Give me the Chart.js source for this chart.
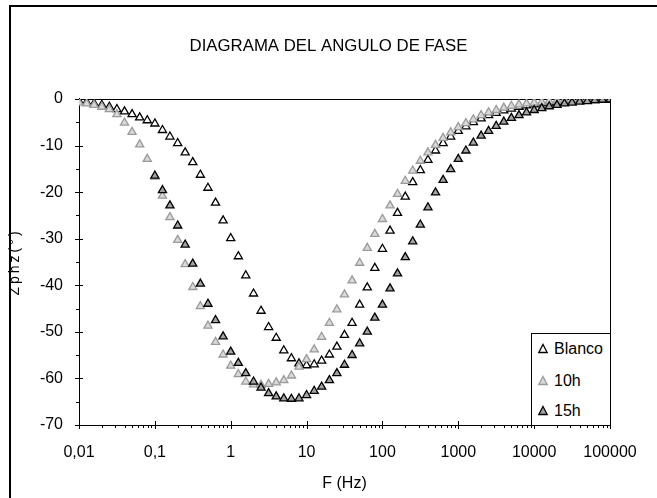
<!DOCTYPE html>
<html>
<head>
<meta charset="utf-8">
<script src="https://cdn.jsdelivr.net/npm/chart.js@4"></script>
<style>
  body { margin: 0; background: #fff; }
  #wrap { position: relative; width: 657px; height: 498px; overflow: hidden; }
  #frame { position: absolute; left: 9px; top: 5px; width: 700px; height: 600px;
           border-left: 2px solid #000; border-top: 2px solid #000; }
  canvas { position: absolute; left: 0; top: 0; }
  #legend { position: absolute; left: 531px; top: 333px; width: 78px; height: 91px;
            border: 1px solid #000; border-bottom: none; background: #fff;
            font-family: 'Liberation Sans', Arial, sans-serif; font-size: 16px; color: #000; }
  .row { position: absolute; left: 0; height: 20px; line-height: 20px; white-space: nowrap; }
  .row svg { position: absolute; left: 5px; top: 4px; }
  .row span { position: absolute; left: 22px; top: 0; }
</style>
</head>
<body>
<div id="wrap">
  <div id="frame"></div>
  <canvas id="phaseChart" width="657" height="498"></canvas>
  <div id="legend"></div>
</div>
<script>
// frequencies (Hz), 10 points per decade
var freq = [0.01, 0.0126, 0.0158, 0.02, 0.0251, 0.0316, 0.0398, 0.0501, 0.0631, 0.0794,
    0.1, 0.126, 0.158, 0.2, 0.251, 0.316, 0.398, 0.501, 0.631, 0.794,
    1, 1.26, 1.58, 2, 2.51, 3.16, 3.98, 5.01, 6.31, 7.94,
    10, 12.6, 15.8, 20, 25.1, 31.6, 39.8, 50.1, 63.1, 79.4,
    100, 126, 158, 200, 251, 316, 398, 501, 631, 794,
    1000, 1260, 1580, 2000, 2510, 3160, 3980, 5010, 6310, 7940,
    10000, 12600, 15800, 20000, 25100, 31600, 39800, 50100, 63100, 79400,
    100000];

var blanco = [-0.5, -0.7, -1.0, -1.3, -1.7, -2.2, -2.7, -3.3, -4.0, -4.6,
    -5.3, -6.7, -8.1, -9.5, -11.5, -13.6, -16.3, -19.1, -22.3, -26.1,
    -29.9, -33.8, -37.9, -41.8, -45.5, -49.0, -51.3, -54.0, -55.7, -56.8,
    -57.2, -57.0, -56.2, -54.9, -53.2, -50.7, -48.1, -44.2, -40.5, -36.3,
    -32.2, -28.3, -24.5, -21.0, -17.9, -15.3, -13.1, -11.1, -9.5, -8.1,
    -6.9, -5.9, -5.0, -4.2, -3.5, -3.0, -2.5, -2.1, -1.7, -1.4,
    -1.2, -1.0, -0.8, -0.7, -0.6, -0.5, -0.4, -0.3, -0.3, -0.2,
    -0.2];

var h10 = [-0.8, -1.0, -1.3, -1.7, -2.2, -3.3, -5.1, -7.1, -9.8, -12.9,
    -16.7, -20.8, -25.4, -30.3, -35.5, -40.4, -44.5, -48.7, -52.2, -54.9,
    -57.3, -59.1, -60.7, -61.3, -61.4, -61.2, -60.9, -60.4, -59.4, -57.5,
    -55.9, -53.8, -51.1, -48.1, -45.2, -42.0, -39.0, -35.2, -32.0, -29.0,
    -25.8, -22.9, -20.4, -17.6, -15.4, -13.3, -11.5, -9.9, -8.4, -7.2,
    -6.1, -5.2, -4.4, -3.5, -2.9, -2.4, -1.9, -1.5, -1.2, -1.0,
    -0.8, -0.7, -0.5, -0.4, -0.3, -0.3, -0.2, -0.2, -0.1, -0.1,
    0.0];

var h15 = [null, null, null, null, null, null, null, null, null, null,
    -16.5, -19.6, -22.9, -27.2, -31.3, -35.4, -39.7, -44.0, -47.5, -51.0,
    -54.3, -56.7, -58.9, -60.7, -62.0, -63.2, -63.9, -64.3, -64.4, -64.3,
    -63.6, -62.7, -61.8, -60.4, -58.9, -57.1, -55.0, -52.5, -50.0, -47.0,
    -44.2, -40.7, -37.5, -34.0, -30.6, -27.0, -23.3, -20.1, -17.4, -15.1,
    -12.9, -11.1, -9.4, -7.9, -6.9, -5.8, -4.9, -4.1, -3.5, -2.9,
    -2.4, -2.0, -1.6, -1.3, -1.0, -0.8, -0.6, -0.5, -0.3, -0.2,
    -0.1];

var seriesNames = ['Blanco', '10h', '15h'];
var xTickValues = [0.01, 0.1, 1, 10, 100, 1000, 10000, 100000];
var xTickLabels = ['0,01', '0,1', '1', '10', '100', '1000', '10000', '100000'];
var yTickValues = [0, -10, -20, -30, -40, -50, -60, -70];

var fills = ['#ffffff', '#d9d9d9', '#a3a3a3'];
var borders = ['#000000', '#9a9a9a', '#000000'];

function toPoints(values) {
    var pts = [];
    for (var i = 0; i < freq.length; i++) {
        if (values[i] !== null) pts.push({x: freq[i], y: values[i]});
    }
    return pts;
}

// plot frame plus crossing major / outside minor tick marks
var axisMarks = {
    id: 'axisMarks',
    beforeDatasetsDraw: function(chart) {
        var ctx = chart.ctx, a = chart.chartArea;
        var x = chart.scales.x, y = chart.scales.y;
        ctx.save();
        ctx.strokeStyle = '#000';
        ctx.lineWidth = 1;
        ctx.strokeRect(Math.round(a.left) + 0.5, Math.round(a.top) + 0.5,
            Math.round(a.right - a.left), Math.round(a.bottom - a.top));
        ctx.beginPath();
        xTickValues.forEach(function(v) {
            var px = Math.round(x.getPixelForValue(v)) + 0.5;
            ctx.moveTo(px, a.bottom - 4);
            ctx.lineTo(px, a.bottom + 4);
            if (v < 100000) {
                for (var k = 2; k < 10; k++) {
                    var mx = Math.round(x.getPixelForValue(v * k)) + 0.5;
                    ctx.moveTo(mx, a.bottom);
                    ctx.lineTo(mx, a.bottom + 3);
                }
            }
        });
        yTickValues.forEach(function(v) {
            var py = Math.round(y.getPixelForValue(v)) + 0.5;
            ctx.moveTo(a.left - 4, py);
            ctx.lineTo(a.left + 4, py);
            if (v > -70) {
                var my = Math.round(y.getPixelForValue(v - 5)) + 0.5;
                ctx.moveTo(a.left - 3, my);
                ctx.lineTo(a.left, my);
            }
        });
        ctx.stroke();
        ctx.restore();
    }
};

Chart.defaults.font.family = "'Liberation Sans', Arial, sans-serif";
Chart.defaults.font.size = 16;
Chart.defaults.color = '#000';

var series = [blanco, h10, h15];
var datasets = series.map(function(vals, i) {
    return {
        label: seriesNames[i],
        data: toPoints(vals),
        pointStyle: 'triangle',
        pointRadius: 4.7,
        pointBorderWidth: 1.3,
        backgroundColor: fills[i],
        borderColor: borders[i],
        order: 3 - i
    };
});

var ctx = document.getElementById('phaseChart').getContext('2d');
var phaseChart = new Chart(ctx, {
    type: 'scatter',
    data: { datasets: datasets },
    plugins: [axisMarks],
    options: {
        responsive: false,
        animation: false,
        layout: { padding: 0 },
        plugins: {
            legend: { display: false },
            tooltip: { enabled: false },
            title: {
                display: true,
                text: 'DIAGRAMA DEL ANGULO DE FASE',
                font: { size: 16.8, weight: 'normal' },
                color: '#000',
                padding: { top: 36, bottom: 42.8 }
            }
        },
        scales: {
            x: {
                type: 'logarithmic',
                min: 0.01,
                max: 100000,
                grid: { display: false, drawTicks: false },
                border: { display: true, color: '#000', width: 1 },
                afterBuildTicks: function(scale) {
                    scale.ticks = xTickValues.map(function(v) { return {value: v}; });
                },
                afterFit: function(scale) { scale.height = 73; },
                ticks: {
                    autoSkip: false,
                    maxRotation: 0,
                    padding: 18,
                    callback: function(v, i) { return xTickLabels[i]; }
                },
                title: { display: true, text: 'F (Hz)', padding: { top: 0, bottom: 5 } }
            },
            y: {
                min: -70,
                max: 0,
                grid: { display: false, drawTicks: false },
                border: { display: true, color: '#000', width: 1 },
                afterFit: function(scale) {
                    scale.width = 79;
                    // spread the rotated axis title a little, as in the original
                    if (!scale._spaced) {
                        var drawTitle = scale.drawTitle;
                        scale.drawTitle = function() {
                            this.ctx.save();
                            this.ctx.letterSpacing = '3px';
                            drawTitle.apply(this, arguments);
                            this.ctx.restore();
                        };
                        scale._spaced = true;
                    }
                },
                ticks: {
                    stepSize: 10,
                    padding: 16,
                    callback: function(v) { return String(v); }
                },
                title: { display: true, text: 'Zphz(°)', font: { size: 14 }, padding: { top: 7, bottom: 0 } }
            },
            // empty right-hand box so the plot ends where the original does
            y2: {
                position: 'right',
                min: -70,
                max: 0,
                grid: { display: false, drawTicks: false },
                border: { display: false },
                ticks: { display: false },
                afterFit: function(scale) { scale.width = 47; }
            }
        }
    }
});

// legend box in the lower right corner of the plot
var legend = document.getElementById('legend');
var rowCenters = [15, 47, 77];
seriesNames.forEach(function(name, i) {
    var row = document.createElement('div');
    row.className = 'row';
    row.style.top = (rowCenters[i] - 10) + 'px';
    row.innerHTML = '<svg width="12" height="12" viewBox="0 0 12 12">' +
        '<polygon points="6,1.5 10.2,9.5 1.8,9.5" fill="' + fills[i] +
        '" stroke="' + borders[i] + '" stroke-width="1.3"/></svg><span>' + name + '</span>';
    legend.appendChild(row);
});
</script>
</body>
</html>
